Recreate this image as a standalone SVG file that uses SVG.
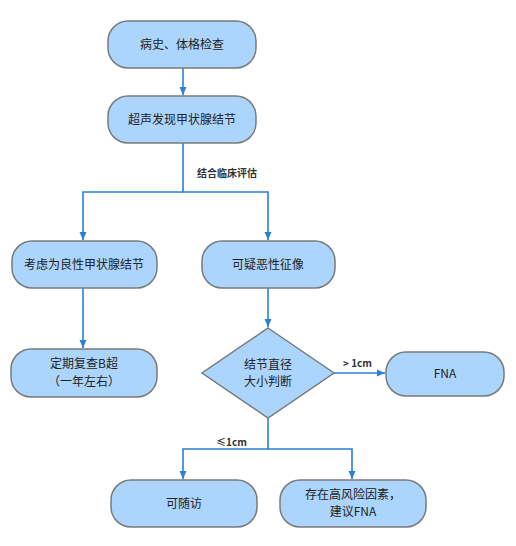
<svg xmlns="http://www.w3.org/2000/svg" width="516" height="546" viewBox="0 0 516 546">
<style>
.n{fill:#acd5fd;stroke:#7a7a7a;stroke-width:1.5}
.t{font-family:"Noto Sans CJK SC","Noto Sans",sans-serif;font-size:12px;fill:#222;text-anchor:middle}
.l{font-family:"Noto Sans CJK SC","Noto Sans",sans-serif;font-size:10px;font-weight:bold;fill:#333}
.c{fill:none;stroke:#2a7fd6;stroke-width:1.6}
</style>
<defs>
<marker id="a" markerWidth="10" markerHeight="10" refX="9" refY="5" orient="auto" markerUnits="userSpaceOnUse">
<path d="M1,1.5 L9,5 L1,8.5 Z" fill="#2a7fd6"/>
</marker>
</defs>
<rect width="516" height="546" fill="#fff"/>
<g id="connectors">
<path class="c" d="M183,68 V95" marker-end="url(#a)"/>
<path class="c" d="M183,143 V192 H83 V240" marker-end="url(#a)"/>
<path class="c" d="M183,192 H268 V240" marker-end="url(#a)"/>
<path class="c" d="M83,288 V348" marker-end="url(#a)"/>
<path class="c" d="M268,288 V327" marker-end="url(#a)"/>
<path class="c" d="M334,373 H385" marker-end="url(#a)"/>
<path class="c" d="M268,418 V449 H183 V479" marker-end="url(#a)"/>
<path class="c" d="M268,449 H352 V479" marker-end="url(#a)"/>
<text class="l" x="197" y="177">结合临床评估</text>
<text class="l" x="343" y="367">&gt; 1cm</text>
<text class="l" x="216" y="446">≤1cm</text>
</g>
<g id="n1"><rect class="n" x="108" y="21" width="148" height="47" rx="20"/><text class="t" x="182" y="49">病史、体格检查</text></g>
<g id="n2"><rect class="n" x="108" y="96" width="148" height="47" rx="20"/><text class="t" x="182" y="124">超声发现甲状腺结节</text></g>
<g id="n3"><rect class="n" x="12" y="241" width="145" height="47" rx="20"/><text class="t" x="84" y="269">考虑为良性甲状腺结节</text></g>
<g id="n4"><rect class="n" x="202" y="241" width="133" height="47" rx="20"/><text class="t" x="268" y="269">可疑恶性征像</text></g>
<g id="n5"><rect class="n" x="11" y="349" width="146" height="48" rx="20"/><text class="t" x="84" y="368">定期复查B超</text><text class="t" x="84" y="386">（一年左右）</text></g>
<g id="n6"><path class="n" d="M268,328 L334,373 L268,418 L202,373 Z"/><text class="t" x="268" y="369">结节直径</text><text class="t" x="268" y="386">大小判断</text></g>
<g id="n7"><rect class="n" x="386" y="352" width="118" height="44" rx="20"/><text class="t" x="445" y="378">FNA</text></g>
<g id="n8"><rect class="n" x="111" y="480" width="146" height="47" rx="20"/><text class="t" x="184" y="508">可随访</text></g>
<g id="n9"><rect class="n" x="280" y="480" width="146" height="47" rx="20"/><text class="t" x="353" y="499">存在高风险因素，</text><text class="t" x="353" y="516">建议FNA</text></g>
</svg>
